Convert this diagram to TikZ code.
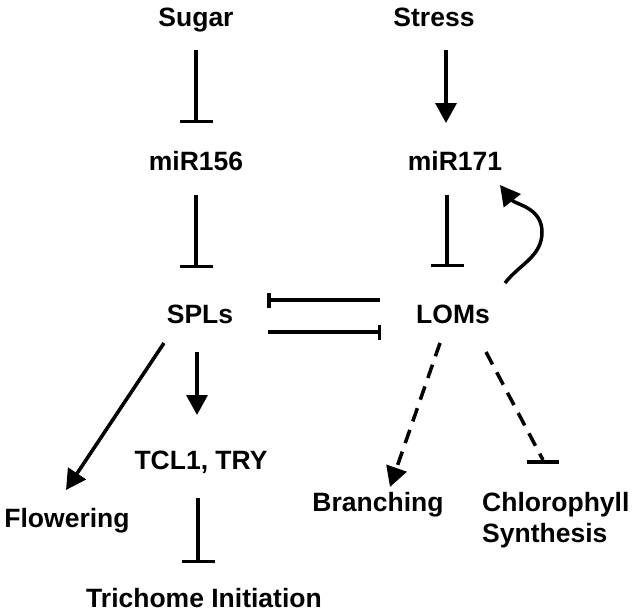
\documentclass[tikz,border=0pt]{standalone}
\usepackage{fontspec}
\setmainfont{Liberation Sans}
\usetikzlibrary{arrows.meta,calc}
\begin{document}
\begin{tikzpicture}[x=1pt,y=1pt,
  lbl/.style={inner sep=0pt, anchor=base, font=\fontsize{26.5}{31}\selectfont\bfseries},
  conn/.style={line width=3.5pt},
  act/.style={conn, -{Triangle[length=20pt,width=21pt]}},
  inh/.style={conn, -{Bar[width=33pt]}},
  inhs/.style={conn, -{Bar[width=15pt]}},
  dsh/.style={dash pattern=on 14pt off 9pt}]
\useasboundingbox (0,0) rectangle (634,-613);
\node[lbl] (sugar) at (196,-26) {Sugar};
\node[lbl] (stress) at (434,-26) {Stress};
\node[lbl] (mir156) at (196,-170) {miR156};
\node[lbl] (mir171) at (455,-170) {miR171};
\node[lbl] (spls) at (200,-323) {SPLs};
\node[lbl] (loms) at (453,-323) {LOMs};
\node[lbl] (tcl) at (201,-469) {TCL1, TRY};
\node[lbl] (flow) at (67,-527) {Flowering};
\node[lbl] (branch) at (378,-511) {Branching};
\node[lbl, anchor=base west, align=left] (chl) at (482,-542) {Chlorophyll\\Synthesis};
\node[lbl] (trich) at (204,-607) {Trichome Initiation};
% connectors
\draw[inh] ($(sugar.base)+(0,-24)$) -- ($(mir156.base)+(0,47)$);
\draw[inh] ($(mir156.base)+(0,-25)$) -- ($(spls.base)+(-4,55)$);
\draw[act] ($(stress.base)+(12,-24)$) -- ($(mir171.base)+(-9,47)$);
\draw[inh] ($(mir171.base)+(-8,-25)$) -- ($(loms.base)+(-6,56)$);
\draw[inhs] ($(loms.base)+(-73,23)$) -- ($(spls.base)+(67,23)$);
\draw[inhs] ($(spls.base)+(68,-9)$) -- ($(loms.base)+(-72,-9)$);
\coordinate (bend) at ($(loms.base)+(89,91)$);
\draw[act] ($(loms.base)+(52,40)$) to[out=52,in=-90] (bend) to[out=90,in=-52] ($(mir171.base)+(45,-15)$);
\draw[act] ($(spls.base)+(-36,-20)$) -- ($(flow.base)+(-1,37)$);
\draw[act] ($(spls.base)+(-3,-29)$) -- ($(tcl.base)+(-4,54)$);
\draw[inh] ($(tcl.base)+(-3,-29)$) -- ($(trich.base)+(-6,44)$);
\draw[act, dsh] ($(loms.base)+(-13,-20)$) -- ($(branch.base)+(12,24)$);
\coordinate (chlend) at ($(chl.base west)+(61,82)$);
\draw[conn, dsh] ($(loms.base)+(33,-29)$) -- (chlend);
\draw[conn] ($(chlend)+(-16,-2)$) -- ($(chlend)+(16,-2)$);
\end{tikzpicture}
\end{document}
